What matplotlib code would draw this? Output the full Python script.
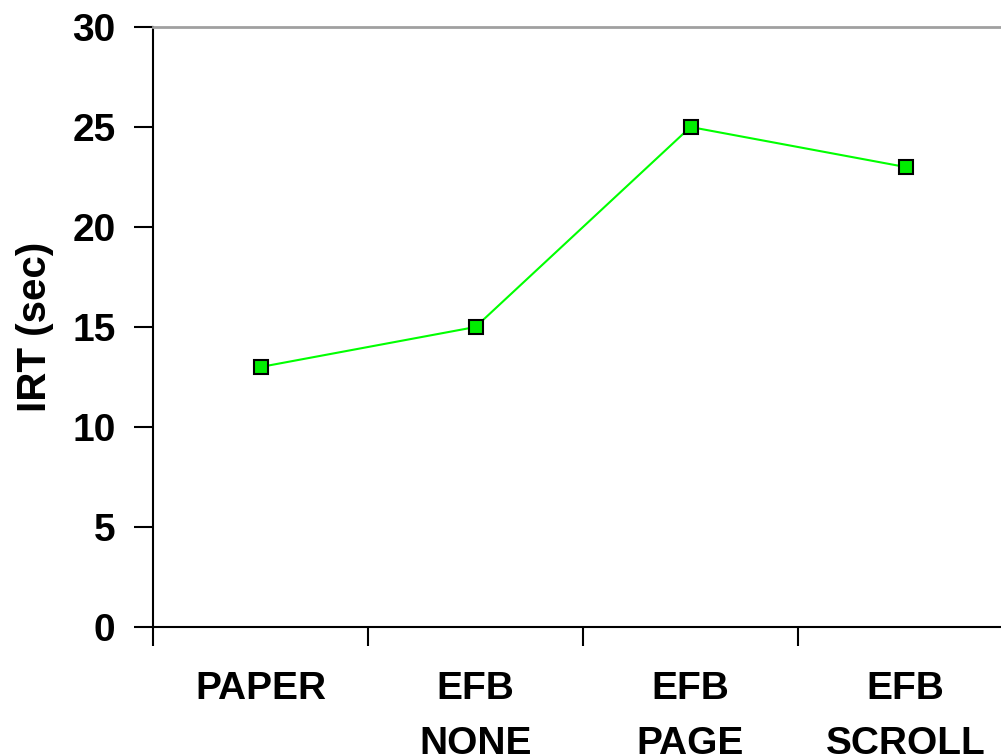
import matplotlib.pyplot as plt
from matplotlib.ticker import FixedLocator

plt.rcParams['font.family'] = ['Liberation Sans', 'DejaVu Sans']
plt.rcParams['font.weight'] = 'bold'

# chart data
categories = ['PAPER', 'EFB\nNONE', 'EFB\nPAGE', 'EFB\nSCROLL']
irt_sec = [13, 15, 25, 23]
y_ticks = [0, 5, 10, 15, 20, 25, 30]

fig = plt.figure(figsize=(10.01, 7.55), dpi=100)
ax = fig.add_axes([153 / 1001, 128 / 755, 860 / 1001, 600 / 755])

x = range(1, len(categories) + 1)
ax.plot(x, irt_sec, color='#00ff00', linewidth=1.5, marker='s', markersize=10,
        markerfacecolor='#00ee00', markeredgecolor='black', markeredgewidth=1.5,
        clip_on=False, zorder=3)

ax.set_xlim(0.5, 4.5)
ax.set_ylim(0, 30)
ax.set_yticks(y_ticks)
ax.tick_params(axis='y', labelsize=28, length=14, width=1.5, pad=13, direction='out')

# category labels at centres, tick marks at boundaries
ax.set_xticks(list(x))
ax.set_xticklabels(categories, fontsize=28, fontweight='bold', linespacing=1.65)
ax.tick_params(axis='x', which='major', length=0, pad=32)
ax.xaxis.set_minor_locator(FixedLocator([0.5, 1.5, 2.5, 3.5, 4.5]))
ax.tick_params(axis='x', which='minor', length=14, width=1.5, direction='out')
for lbl in ax.get_xticklabels():
    lbl.set_verticalalignment('top')

ax.set_ylabel('IRT (sec)', fontsize=29, fontweight='bold', labelpad=13)

ax.spines['right'].set_visible(False)
ax.spines['top'].set_color('#a0a0a0')
ax.spines['top'].set_linewidth(2)
ax.spines['left'].set_linewidth(1.5)
ax.spines['bottom'].set_linewidth(1.5)

fig.savefig('out.png', dpi=100)
